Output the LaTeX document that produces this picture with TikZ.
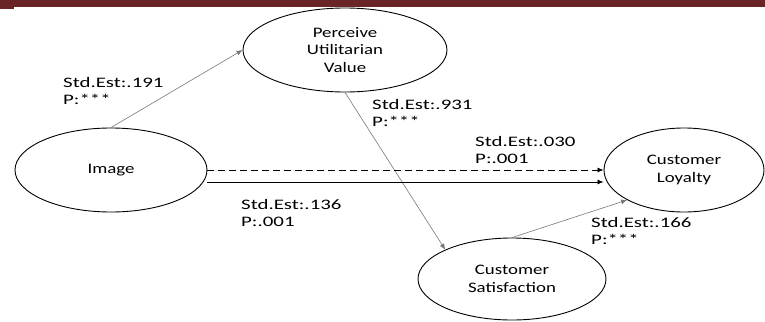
\documentclass[tikz,border=0pt]{standalone}
\usepackage{fontspec}
\setmainfont{Carlito}[FakeStretch=1.3]
\newfontfamily\estfont{Carlito}[FakeStretch=1.44]
\usetikzlibrary{shapes.geometric,arrows.meta}
\definecolor{barred}{RGB}{106,36,38}
\definecolor{linegray}{RGB}{120,120,120}
\begin{document}
\begin{tikzpicture}[x=1pt,y=-1pt]
            \tikzstyle{every node}+=[inner sep=0pt,font=\fontsize{14.5}{17.5}\selectfont]
            \tikzstyle{construct}=[draw,ellipse,line width=0.9pt,align=center]
            \tikzstyle{est}=[anchor=north west,align=left,font=\fontsize{14.5}{17}\estfont]
            \tikzstyle{link}=[-{Latex[length=6pt,width=5pt]},line width=0.8pt]
            \tikzstyle{linkgray}=[link,draw=linegray,line width=0.6pt]
                \useasboundingbox (0,0) rectangle (765,321);
                \fill [barred] (0,0) rectangle (765,7);
                \fill [barred] (0,7) rectangle (14,9);
                % constructs
                \node [construct,minimum width=192,minimum height=84] (img) at (111,170) {Image};
                \node [construct,minimum width=204,minimum height=84] (puv) at (345,50) {Perceive\\Utilitarian\\Value};
                \node [construct,minimum width=160,minimum height=84] (loy) at (684,170) {Customer\\Loyalty};
                \node [construct,minimum width=188,minimum height=82] (sat) at (512,279) {Customer\\Satisfaction};
                % paths
                \draw [linkgray] (img.north) -- (puv.west);
                \draw [linkgray] (puv.south) -- (sat.north west);
                \draw [link,dash pattern=on 7pt off 4pt] (img.east) -- (loy.west);
                \draw [link] ([yshift=-12pt]img.east) -- ([yshift=-12pt]loy.west);
                \draw [linkgray] (sat.north) -- (loy.south west);
                % estimates
                \node [est] (e191) at (63,77) {Std.Est:.191\\P:***};
                \node [est] (e931) at (372,99) {Std.Est:.931\\P:***};
                \node [est] (e030) at (475,136) {Std.Est:.030\\P:.001};
                \node [est] (e136) at (241,199) {Std.Est:.136\\P:.001};
                \node [est] (e166) at (591,217) {Std.Est:.166\\P:***};
            \end{tikzpicture}
\end{document}
